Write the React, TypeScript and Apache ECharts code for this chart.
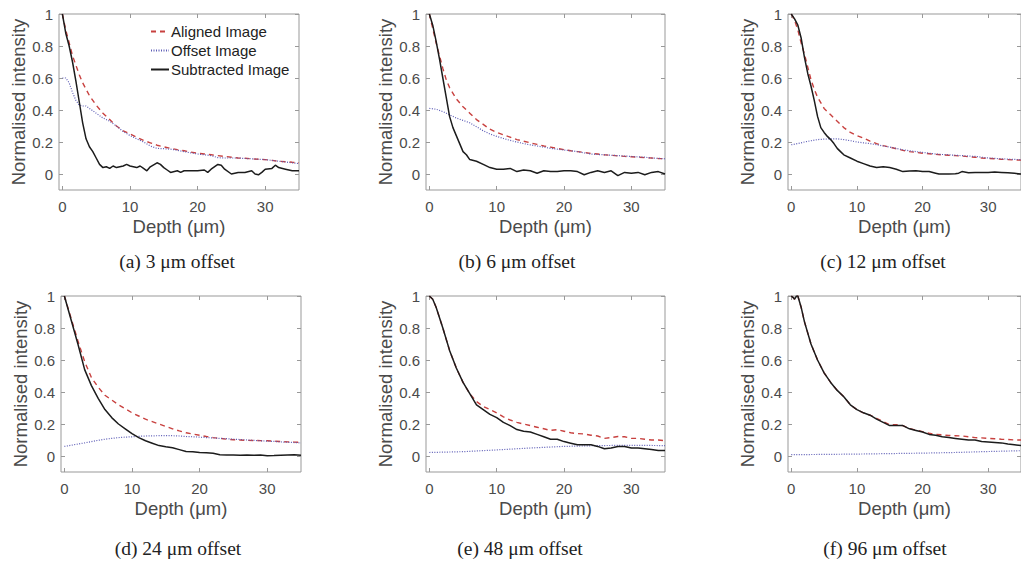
import React, { useEffect, useRef } from "react";
import * as echarts from "echarts";

type Pt = [number, number];

const seriesNames = ["Aligned Image", "Offset Image", "Subtracted Image"];
const xTicks = [0, 10, 20, 30];
const yTicks = [0, 0.2, 0.4, 0.6, 0.8, 1];
const xName = "Depth (μm)";
const yName = "Normalised intensity";
const captions = [
  "(a) 3 μm offset",
  "(b) 6 μm offset",
  "(c) 12 μm offset",
  "(d) 24 μm offset",
  "(e) 48 μm offset",
  "(f) 96 μm offset",
];

// (a) 3 µm offset
const aAligned: Pt[] = [[0,1],[0.5,0.9],[1,0.82],[1.5,0.74],[2,0.68],[2.5,0.62],[3,0.57],[4,0.49],[5,0.43],[6,0.38],[7,0.34],[8,0.3],[9,0.27],[10,0.25],[11,0.23],[12,0.21],[13,0.195],[14,0.18],[15,0.17],[16,0.16],[17,0.152],[18,0.145],[19,0.137],[20,0.13],[21,0.125],[22,0.12],[23,0.115],[24,0.11],[25,0.105],[26,0.1],[27,0.098],[28,0.095],[29,0.092],[30,0.09],[31,0.085],[32,0.08],[33,0.077],[34,0.073],[35,0.07]];
const aOffset: Pt[] = [[0,0.6],[0.5,0.6],[1,0.57],[1.5,0.51],[2,0.46],[2.5,0.43],[3,0.425],[3.5,0.425],[4,0.41],[5,0.38],[6,0.35],[7,0.33],[8,0.3],[9,0.265],[10,0.24],[11,0.22],[12,0.2],[13,0.175],[14,0.16],[15,0.158],[16,0.155],[17,0.148],[18,0.14],[19,0.132],[20,0.125],[21,0.12],[22,0.115],[23,0.102],[24,0.1],[25,0.1],[26,0.1],[27,0.097],[28,0.095],[29,0.092],[30,0.09],[31,0.085],[32,0.08],[33,0.075],[34,0.07],[35,0.065]];
const aSubtracted: Pt[] = [[0,1],[0.5,0.88],[1,0.8],[1.5,0.7],[2,0.58],[2.5,0.45],[3,0.32],[3.5,0.22],[4,0.17],[4.5,0.14],[5,0.1],[5.5,0.06],[6,0.04],[6.5,0.045],[7,0.035],[7.5,0.05],[8,0.04],[9,0.05],[9.5,0.06],[10,0.05],[11,0.04],[11.5,0.05],[12,0.035],[12.5,0.02],[13,0.045],[14,0.07],[14.5,0.06],[15,0.04],[15.5,0.025],[16,0.01],[17,0.02],[17.5,0.01],[18,0.02],[19,0.02],[20,0.02],[21,0.025],[21.5,0.01],[22,0.03],[23,0.06],[23.5,0.055],[24,0.03],[25,0],[26,0.01],[27,0.01],[28,0.02],[28.5,0],[29,-0.005],[29.5,0.01],[30,0.03],[31,0.035],[31.5,0.055],[32,0.04],[33,0.03],[34,0.02],[35,0.02]];

// (b) 6 µm offset
const bAligned: Pt[] = [[0,1],[0.5,0.91],[1,0.82],[1.5,0.74],[2,0.66],[2.5,0.59],[3,0.54],[4,0.47],[5,0.42],[6,0.38],[7,0.34],[8,0.31],[9,0.28],[10,0.26],[11,0.245],[12,0.23],[13,0.215],[14,0.205],[15,0.195],[16,0.185],[17,0.175],[18,0.168],[19,0.16],[20,0.152],[21,0.145],[22,0.14],[23,0.135],[24,0.128],[25,0.125],[26,0.12],[27,0.117],[28,0.113],[29,0.11],[30,0.108],[31,0.105],[32,0.102],[33,0.1],[34,0.097],[35,0.095]];
const bOffset: Pt[] = [[0,0.41],[1,0.405],[2,0.39],[3,0.37],[4,0.35],[5,0.335],[6,0.32],[7,0.295],[8,0.27],[9,0.25],[10,0.235],[11,0.222],[12,0.21],[13,0.2],[14,0.19],[15,0.182],[16,0.175],[17,0.168],[18,0.16],[19,0.155],[20,0.15],[21,0.145],[22,0.14],[23,0.132],[24,0.125],[25,0.122],[26,0.12],[27,0.117],[28,0.115],[29,0.112],[30,0.11],[31,0.107],[32,0.105],[33,0.1],[34,0.098],[35,0.095]];
const bSubtracted: Pt[] = [[0,1],[0.5,0.93],[1,0.83],[1.5,0.72],[2,0.6],[2.5,0.48],[3,0.36],[3.5,0.29],[4,0.24],[4.5,0.19],[5,0.14],[5.5,0.12],[6,0.09],[7,0.08],[8,0.06],[9,0.04],[10,0.03],[11,0.03],[12,0.035],[13,0.015],[14,0.025],[15,0.02],[16,0.005],[17,0.02],[18,0.015],[19,0.015],[20,0.02],[21,0.02],[22,0.015],[23,-0.005],[24,0.01],[25,0.02],[26,0.01],[27,0.02],[28,-0.01],[29,0.01],[30,0.005],[31,0.01],[32,-0.005],[33,0.01],[34,0.015],[35,0]];

// (c) 12 µm offset
const cAligned: Pt[] = [[0,1],[0.5,0.96],[1,0.9],[1.5,0.82],[2,0.75],[2.5,0.67],[3,0.59],[3.5,0.53],[4,0.48],[5,0.41],[6,0.37],[7,0.33],[8,0.29],[9,0.26],[10,0.24],[11,0.225],[12,0.205],[13,0.19],[14,0.177],[15,0.168],[16,0.158],[17,0.148],[18,0.14],[19,0.135],[20,0.13],[21,0.127],[22,0.123],[23,0.12],[24,0.117],[25,0.115],[26,0.112],[27,0.108],[28,0.105],[29,0.1],[30,0.098],[31,0.095],[32,0.092],[33,0.09],[34,0.088],[35,0.087]];
const cOffset: Pt[] = [[0,0.183],[1,0.19],[2,0.2],[3,0.208],[4,0.215],[5,0.218],[6,0.22],[7,0.22],[8,0.215],[9,0.208],[10,0.2],[11,0.195],[12,0.19],[13,0.183],[14,0.175],[15,0.168],[16,0.16],[17,0.152],[18,0.145],[19,0.14],[20,0.135],[21,0.13],[22,0.125],[23,0.122],[24,0.12],[25,0.117],[26,0.115],[27,0.112],[28,0.11],[29,0.105],[30,0.1],[31,0.098],[32,0.095],[33,0.093],[34,0.091],[35,0.09]];
const cSubtracted: Pt[] = [[0,1],[0.5,0.97],[1,0.93],[1.5,0.85],[2,0.73],[2.5,0.63],[3,0.55],[3.5,0.46],[4,0.36],[4.5,0.29],[5,0.26],[5.5,0.235],[6,0.215],[6.5,0.19],[7,0.16],[7.5,0.14],[8,0.12],[9,0.1],[10,0.08],[11,0.065],[12,0.05],[13,0.04],[14,0.045],[15,0.04],[16,0.03],[17,0.015],[18,0.018],[19,0.02],[20,0.015],[21,0.015],[22,0.005],[22.5,0],[23,0],[24,0],[25,0.002],[25.5,0.005],[26,0.015],[27,0.008],[28,0.01],[29,0.01],[30,0.01],[31,0.012],[32,0.01],[33,0.008],[34,0.005],[35,0]];

// (d) 24 µm offset
const dAligned: Pt[] = [[0,1],[1,0.86],[2,0.72],[3,0.59],[4,0.49],[5,0.43],[6,0.38],[7,0.35],[8,0.32],[9,0.295],[10,0.27],[11,0.25],[12,0.23],[13,0.215],[14,0.2],[15,0.185],[16,0.17],[17,0.157],[18,0.145],[19,0.137],[20,0.13],[21,0.122],[22,0.115],[23,0.11],[24,0.105],[25,0.102],[26,0.1],[27,0.098],[28,0.097],[29,0.096],[30,0.095],[31,0.093],[32,0.09],[33,0.088],[34,0.087],[35,0.085]];
const dOffset: Pt[] = [[0,0.06],[1,0.067],[2,0.075],[3,0.082],[4,0.09],[5,0.098],[6,0.105],[7,0.11],[8,0.115],[9,0.118],[10,0.12],[11,0.123],[12,0.125],[13,0.126],[14,0.127],[15,0.127],[16,0.127],[17,0.125],[18,0.122],[19,0.12],[20,0.118],[21,0.115],[22,0.113],[23,0.11],[24,0.108],[25,0.105],[26,0.103],[27,0.1],[28,0.098],[29,0.095],[30,0.093],[31,0.091],[32,0.088],[33,0.086],[34,0.084],[35,0.082]];
const dSubtracted: Pt[] = [[0,1],[1,0.85],[2,0.7],[3,0.54],[4,0.44],[5,0.36],[6,0.29],[7,0.24],[8,0.2],[9,0.17],[10,0.14],[11,0.115],[12,0.095],[13,0.08],[14,0.065],[15,0.058],[16,0.052],[17,0.04],[18,0.028],[19,0.027],[20,0.022],[21,0.02],[22,0.017],[23,0.008],[24,0.007],[25,0.007],[26,0.005],[27,0.006],[28,0.005],[29,0.006],[30,0.002],[31,0.003],[32,0.005],[33,0.007],[34,0.008],[35,0.005]];

// (e) 48 µm offset
const eAligned: Pt[] = [[0,1],[0.5,0.98],[1,0.93],[2,0.8],[3,0.66],[4,0.55],[5,0.46],[6,0.39],[7,0.34],[8,0.31],[9,0.29],[10,0.27],[11,0.245],[12,0.225],[13,0.21],[14,0.2],[15,0.19],[16,0.18],[17,0.17],[18,0.16],[19,0.165],[20,0.155],[21,0.145],[22,0.14],[23,0.138],[24,0.13],[25,0.125],[26,0.11],[27,0.115],[28,0.122],[29,0.12],[30,0.11],[31,0.11],[32,0.105],[33,0.1],[34,0.1],[35,0.095]];
const eOffset: Pt[] = [[0,0.022],[5,0.027],[10,0.038],[15,0.05],[20,0.06],[25,0.065],[30,0.067],[35,0.065]];
const eSubtracted: Pt[] = [[0,1],[0.5,0.98],[1,0.93],[2,0.8],[3,0.66],[4,0.55],[5,0.46],[6,0.39],[7,0.32],[8,0.29],[9,0.26],[10,0.24],[11,0.21],[12,0.19],[13,0.165],[14,0.155],[15,0.15],[16,0.135],[17,0.12],[18,0.105],[19,0.105],[20,0.09],[21,0.08],[22,0.07],[23,0.07],[24,0.07],[25,0.06],[26,0.045],[27,0.05],[28,0.06],[29,0.06],[30,0.05],[31,0.05],[32,0.045],[33,0.04],[34,0.035],[35,0.035]];

// (f) 96 µm offset
const fAligned: Pt[] = [[0,1],[0.3,0.99],[0.5,0.98],[0.8,1],[1,1],[1.5,0.93],[2,0.84],[3,0.7],[4,0.6],[5,0.52],[6,0.46],[7,0.41],[8,0.37],[9,0.32],[10,0.29],[11,0.27],[12,0.255],[13,0.235],[14,0.215],[15,0.195],[16,0.195],[17,0.19],[18,0.172],[19,0.162],[20,0.152],[21,0.142],[22,0.135],[23,0.132],[24,0.128],[25,0.127],[26,0.125],[27,0.12],[28,0.115],[29,0.113],[30,0.11],[31,0.108],[32,0.105],[33,0.103],[34,0.1],[35,0.1]];
const fOffset: Pt[] = [[0,0.008],[5,0.01],[10,0.012],[15,0.015],[20,0.018],[25,0.022],[30,0.028],[35,0.033]];
const fSubtracted: Pt[] = [[0,1],[0.3,0.99],[0.5,0.98],[0.8,1],[1,1],[1.5,0.93],[2,0.84],[3,0.7],[4,0.6],[5,0.52],[6,0.46],[7,0.41],[8,0.37],[9,0.32],[10,0.29],[11,0.27],[12,0.255],[13,0.23],[14,0.21],[15,0.19],[16,0.19],[17,0.19],[18,0.17],[19,0.16],[20,0.15],[21,0.135],[22,0.13],[23,0.12],[24,0.115],[25,0.11],[26,0.105],[27,0.1],[28,0.1],[29,0.09],[30,0.088],[31,0.085],[32,0.082],[33,0.075],[34,0.07],[35,0.065]];

const panelData: Pt[][][] = [
  [aAligned, aOffset, aSubtracted],
  [bAligned, bOffset, bSubtracted],
  [cAligned, cOffset, cSubtracted],
  [dAligned, dOffset, dSubtracted],
  [eAligned, eOffset, eSubtracted],
  [fAligned, fOffset, fSubtracted],
];

// layout (pixels)
const boxes = [
  { left: 59, top: 14, width: 240, height: 176 },
  { left: 426, top: 14, width: 239, height: 176 },
  { left: 788, top: 14, width: 240, height: 176 },
  { left: 61, top: 296, width: 240, height: 176 },
  { left: 426, top: 296, width: 239, height: 176 },
  { left: 788, top: 296, width: 240, height: 176 },
];
const captionPos = [
  [177, 261], [517, 261], [883, 261],
  [178, 548], [520, 548], [885, 548],
];

const AXIS_COLOR = "#999999";
const TEXT_COLOR = "#4a4a4a";
const SANS = "'Liberation Sans', Arial, sans-serif";
const SERIF = "'Liberation Serif', 'Times New Roman', serif";

const lineStyles = [
  { color: "#c8413f", width: 1.4, type: [5, 4] as any },
  { color: "#5b5bb5", width: 1.2, type: [1, 1.5] as any },
  { color: "#1c1c1c", width: 1.5, type: "solid" as any },
];

export default function App() {
  const ref = useRef<HTMLDivElement>(null);
  useEffect(() => {
    if (!ref.current) return;
    const chart = echarts.init(ref.current, undefined, { renderer: "svg" });
    const grid: any[] = [];
    const xAxis: any[] = [];
    const yAxis: any[] = [];
    const series: any[] = [];
    boxes.forEach((b, i) => {
      grid.push({ ...b, show: true, borderColor: AXIS_COLOR, borderWidth: 1, backgroundColor: "#fff", containLabel: false });
      const tickStyle = { show: true, inside: true, length: 4, lineStyle: { color: AXIS_COLOR, width: 1 } };
      const xCommon = { gridIndex: i, type: "value", min: -0.5, max: 35, axisLine: { show: false, onZero: false }, splitLine: { show: false } };
      xAxis.push({
        ...xCommon,
        position: "bottom",
        axisTick: { ...tickStyle, customValues: xTicks },
        axisLabel: { customValues: xTicks, fontSize: 15, color: TEXT_COLOR, fontFamily: SANS, margin: 9 },
        name: xName,
        nameLocation: "middle",
        nameGap: 27,
        nameTextStyle: { fontSize: 18.5, color: TEXT_COLOR, fontFamily: SANS },
      });
      xAxis.push({
        ...xCommon,
        position: "top",
        axisTick: { ...tickStyle, customValues: xTicks },
        axisLabel: { show: false },
      });
      const yCommon = { gridIndex: i, type: "value", min: -0.1, max: 1, axisLine: { show: false, onZero: false }, splitLine: { show: false } };
      yAxis.push({
        ...yCommon,
        position: "left",
        axisTick: { ...tickStyle, customValues: yTicks },
        axisLabel: { customValues: yTicks, fontSize: 15, color: TEXT_COLOR, fontFamily: SANS, margin: 6, formatter: (v: number) => String(Math.round(v * 10) / 10) },
        name: yName,
        nameLocation: "middle",
        nameRotate: 90,
        nameGap: 29,
        nameTextStyle: { fontSize: 18.5, color: TEXT_COLOR, fontFamily: SANS },
      });
      yAxis.push({
        ...yCommon,
        position: "right",
        axisTick: { ...tickStyle, customValues: yTicks },
        axisLabel: { show: false },
      });
      panelData[i].forEach((d, k) => {
        series.push({
          type: "line",
          name: seriesNames[k],
          xAxisIndex: 2 * i,
          yAxisIndex: 2 * i,
          data: d,
          symbol: "none",
          showSymbol: false,
          lineStyle: lineStyles[k],
          itemStyle: { color: lineStyles[k].color },
          z: 2 + k,
        });
      });
    });
    const graphic = captions.map((t, i) => ({
      type: "text",
      x: captionPos[i][0],
      y: captionPos[i][1],
      style: { text: t, font: `19.5px ${SERIF}`, fill: "#222", textAlign: "center", textVerticalAlign: "middle" },
    }));
    chart.setOption({
      animation: false,
      backgroundColor: "#fff",
      grid,
      xAxis,
      yAxis,
      series,
      legend: {
        data: seriesNames,
        orient: "vertical",
        left: 150,
        top: 24,
        itemWidth: 18,
        itemHeight: 12,
        itemGap: 4,
        padding: 0,
        itemStyle: { opacity: 0 },
        textStyle: { fontSize: 15, color: "#222", fontFamily: SANS, padding: [0, 0, 0, -3] },
        selectedMode: false,
      },
      graphic,
    });
    return () => chart.dispose();
  }, []);
  return (
    <div
      ref={ref}
      style={{ position: "fixed", left: 0, top: 0, width: 1021, height: 563, background: "#fff" }}
    />
  );
}
